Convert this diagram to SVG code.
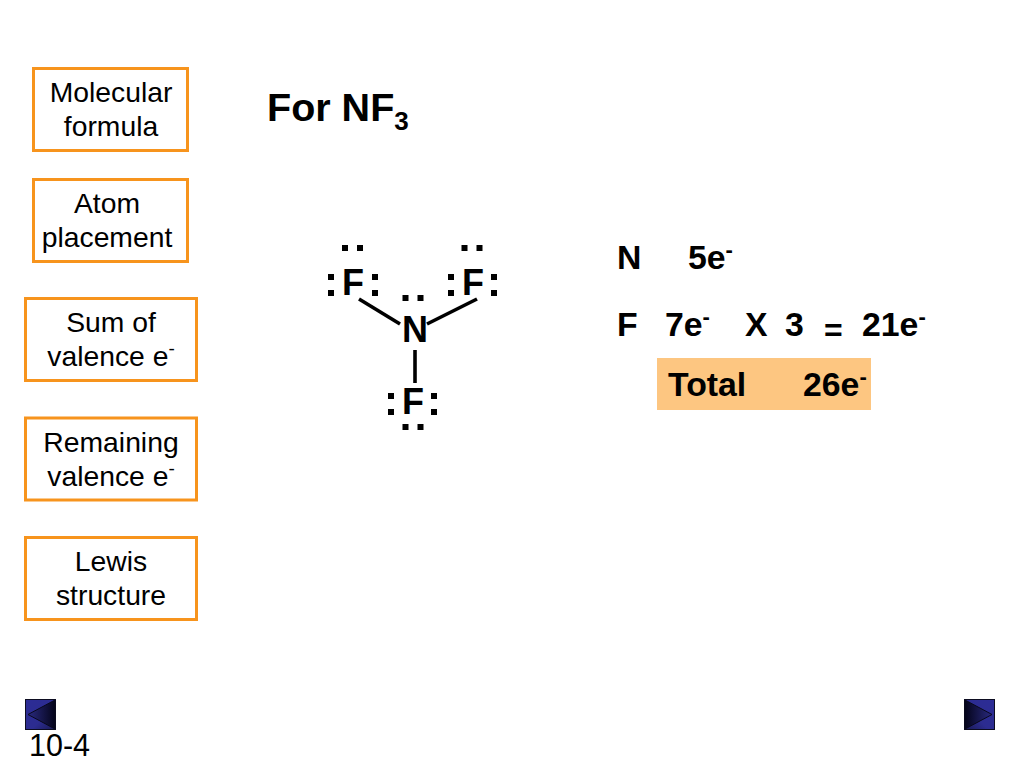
<svg xmlns="http://www.w3.org/2000/svg" width="1024" height="768" viewBox="0 0 1024 768">
<defs>
<linearGradient id="gl" x1="0" x2="1" y1="0" y2="1"><stop offset="0" stop-color="#2c2c96"/><stop offset="0.6" stop-color="#2c2c90"/><stop offset="1" stop-color="#181850"/></linearGradient>
<linearGradient id="gr" x1="0" x2="1" y1="1" y2="0"><stop offset="0" stop-color="#181850"/><stop offset="0.4" stop-color="#2c2c90"/><stop offset="1" stop-color="#2c2c96"/></linearGradient>
<linearGradient id="tl" x1="0" x2="1" y1="0" y2="0"><stop offset="0" stop-color="#2a2a80"/><stop offset="1" stop-color="#04041a"/></linearGradient>
<linearGradient id="tr" x1="0" x2="1" y1="0" y2="0"><stop offset="0" stop-color="#04041a"/><stop offset="1" stop-color="#2a2a80"/></linearGradient>
</defs>
<style>
text{font-family:"Liberation Sans",Arial,sans-serif;fill:#000}
.box{fill:#fff;stroke:#f7941d;stroke-width:3}
.lab{font-size:28.300px;text-anchor:middle}
.b{font-weight:bold;font-size:33.800px}
.sup{font-weight:bold;font-size:22px}
.atom{font-weight:bold;font-size:36px;text-anchor:middle}
.dot{fill:#000}
.bond{stroke:#000;stroke-width:3.600;fill:none}
.nav{stroke:#0c0c20;stroke-width:1}
</style>
<rect width="1024" height="768" fill="#fff"/>
<g id="step-molecular"><rect class="box" x="33.500" y="68.500" width="154" height="82"/><text class="lab" x="111" y="101.500">Molecular</text><text class="lab" x="111" y="135.500">formula</text></g>
<g id="step-atom"><rect class="box" x="33.500" y="179.500" width="154" height="82"/><text class="lab" x="107" y="212.500">Atom</text><text class="lab" x="107" y="246.500">placement</text></g>
<g id="step-sum"><rect class="box" x="25.500" y="298.500" width="171" height="82"/><text class="lab" x="111" y="331.500">Sum of</text><text class="lab" x="111" y="365.500">valence e<tspan font-size="19" dy="-11">-</tspan></text></g>
<g id="step-remaining"><rect class="box" x="25.500" y="418" width="171" height="82"/><text class="lab" x="111" y="451.500">Remaining</text><text class="lab" x="111" y="485.500">valence e<tspan font-size="19" dy="-11">-</tspan></text></g>
<g id="step-lewis"><rect class="box" x="25.500" y="537.500" width="171" height="82"/><text class="lab" x="111" y="570.500">Lewis</text><text class="lab" x="111" y="604.500">structure</text></g>
<text x="267" y="121" font-weight="bold" font-size="39.500">For NF<tspan font-size="26" dy="9">3</tspan></text>
<g id="connectors">
<line class="bond" x1="359" y1="299" x2="400" y2="324"/>
<line class="bond" x1="477" y1="299" x2="427" y2="324"/>
<line class="bond" x1="415" y1="350" x2="415" y2="383"/>
</g>
<g id="atom-n"><text class="atom" x="415" y="342">N</text>
<rect class="dot" x="402.500" y="295" width="6" height="6"/><rect class="dot" x="417.500" y="295" width="6" height="6"/></g>
<g id="atom-f-left"><text class="atom" x="353" y="295">F</text>
<rect class="dot" x="342" y="245" width="6" height="6"/><rect class="dot" x="357" y="245" width="6" height="6"/>
<rect class="dot" x="328" y="274" width="6" height="6"/><rect class="dot" x="328" y="290" width="6" height="6"/>
<rect class="dot" x="372" y="274" width="6" height="6"/><rect class="dot" x="372" y="290" width="6" height="6"/></g>
<g id="atom-f-right"><text class="atom" x="473" y="295">F</text>
<rect class="dot" x="461.500" y="245" width="6" height="6"/><rect class="dot" x="476.500" y="245" width="6" height="6"/>
<rect class="dot" x="448" y="274" width="6" height="6"/><rect class="dot" x="448" y="290" width="6" height="6"/>
<rect class="dot" x="491" y="274" width="6" height="6"/><rect class="dot" x="491" y="290" width="6" height="6"/></g>
<g id="atom-f-bottom"><text class="atom" x="413" y="414">F</text>
<rect class="dot" x="388" y="393" width="6" height="6"/><rect class="dot" x="388" y="409" width="6" height="6"/>
<rect class="dot" x="431" y="393" width="6" height="6"/><rect class="dot" x="431" y="409" width="6" height="6"/>
<rect class="dot" x="402.500" y="424" width="6" height="6"/><rect class="dot" x="417.500" y="424" width="6" height="6"/></g>
<g id="sum-table">
<rect x="657" y="358" width="214" height="52" fill="#fdc681"/>
<text class="b" x="617" y="269">N</text><text class="b" x="688" y="269">5e<tspan class="sup" dy="-12">-</tspan></text>
<text class="b" x="617" y="336">F</text><text class="b" x="665" y="336">7e<tspan class="sup" dy="-12">-</tspan></text>
<text class="b" x="745" y="336">X</text><text class="b" x="785" y="336">3</text><text class="b" x="824" y="341" style="font-size:32px">=</text>
<text class="b" x="862" y="336">21e<tspan class="sup" dy="-12">-</tspan></text>
<text class="b" x="668" y="396">Total</text><text class="b" x="803" y="396">26e<tspan class="sup" dy="-12">-</tspan></text>
</g>
<g id="nav-prev"><rect class="nav" x="25.500" y="699.500" width="30" height="30" fill="url(#gl)"/><polygon points="28,714.500 55,700 55,729" fill="url(#tl)" stroke="#08081c"/></g>
<text x="29" y="756" font-size="30.500">10-4</text>
<g id="nav-next"><rect class="nav" x="964.500" y="699.500" width="30" height="30" fill="url(#gr)"/><polygon points="992,714.500 965,700 965,729" fill="url(#tr)" stroke="#08081c"/></g>
</svg>
